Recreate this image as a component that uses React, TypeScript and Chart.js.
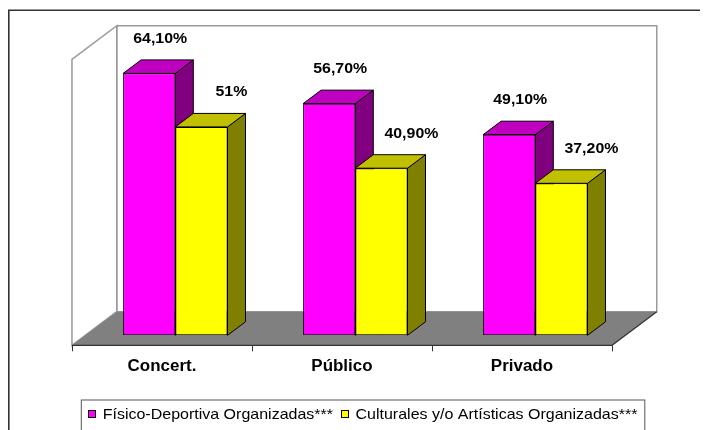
import React, { useEffect, useRef } from "react";
import { Chart, registerables } from "chart.js";

Chart.register(...registerables);

const categories = ["Concert.", "Público", "Privado"];
const fisicoValues = [64.1, 56.7, 49.1];
const culturalesValues = [51, 40.9, 37.2];
const fisicoLabels = ["64,10%", "56,70%", "49,10%"];
const culturalesLabels = ["51%", "40,90%", "37,20%"];
const seriesNames = ["Físico-Deportiva Organizadas***", "Culturales y/o Artísticas Organizadas***"];
const yMin = 0;
const yMax = 70;

const FONT = '"Liberation Sans", Arial, Helvetica, sans-serif';
const frontColors = ["#FF00FF", "#FFFF00"];
const topColors = ["#C000C0", "#C0C000"];
const sideColors = ["#800080", "#808000"];
const valueLabels = [fisicoLabels, culturalesLabels];

// depth geometry (pixels): direction (4/3, -1) per unit of depth
const DX = 4 / 3;
const BAR_DEPTH = 13.5;
const FRONT_GAP = 10;
const BACK_GAP = 23.6;
const LABEL_SHIFT = [11, 30];

function drawText(ctx: CanvasRenderingContext2D, s: string, x: number, y: number, font: string, sx: number, align: CanvasTextAlign) {
  ctx.save();
  ctx.translate(x, y);
  ctx.scale(sx, 1);
  ctx.font = font;
  ctx.textAlign = align;
  ctx.textBaseline = "alphabetic";
  ctx.fillStyle = "#000";
  ctx.fillText(s, 0, 0);
  ctx.restore();
}

function poly(ctx: CanvasRenderingContext2D, pts: number[][], fill: string | null, stroke: string | null, lw = 1) {
  ctx.beginPath();
  ctx.moveTo(pts[0][0], pts[0][1]);
  for (let i = 1; i < pts.length; i++) ctx.lineTo(pts[i][0], pts[i][1]);
  ctx.closePath();
  if (fill) {
    ctx.fillStyle = fill;
    ctx.fill();
  }
  if (stroke) {
    ctx.strokeStyle = stroke;
    ctx.lineWidth = lw;
    ctx.stroke();
  }
}

const threeD = {
  id: "threeD",
  beforeDatasetsDraw(chart: any) {
    const { ctx, chartArea: ca, scales } = chart;
    const ys = scales.y;
    const xs = scales.x;
    const base = ys.getPixelForValue(yMin);
    const top = ys.getPixelForValue(yMax);
    const fl = ca.left - FRONT_GAP * DX, fr = ca.right - FRONT_GAP * DX;
    const fb = base + FRONT_GAP, ft = top + FRONT_GAP;
    const bl = ca.left + BACK_GAP * DX, br = ca.right + BACK_GAP * DX;
    const bb = base - BACK_GAP, bt = top - BACK_GAP;
    ctx.save();
    // outer frame
    ctx.strokeStyle = "#333";
    ctx.lineWidth = 1.6;
    ctx.beginPath();
    ctx.moveTo(0.8, chart.height + 5);
    ctx.lineTo(0.8, 2.3);
    ctx.lineTo(chart.width + 5, 2.3);
    ctx.stroke();
    // back wall
    poly(ctx, [[bl, bt], [br, bt], [br, bb], [bl, bb]], "#FFFFFF", "#9A9A9A", 1.5);
    // left wall
    poly(ctx, [[fl, ft], [bl, bt], [bl, bb], [fl, fb]], "#FFFFFF", "#9A9A9A", 1.5);
    // floor
    poly(ctx, [[fl, fb], [fr, fb], [br, bb], [bl, bb]], "#808080", null);
    ctx.strokeStyle = "#333";
    ctx.lineWidth = 1.2;
    ctx.beginPath();
    ctx.moveTo(fl, fb);
    ctx.lineTo(fr, fb);
    ctx.lineTo(br, bb);
    ctx.stroke();
    // ticks
    ctx.lineWidth = 1;
    ctx.beginPath();
    for (let i = 0; i <= categories.length; i++) {
      const x = Math.round(xs.getPixelForValue(i - 0.5) - FRONT_GAP * DX) + 0.5;
      ctx.moveTo(x, fb);
      ctx.lineTo(x, fb + 6);
    }
    ctx.stroke();
    // 3D faces of bars
    for (let d = 0; d < chart.data.datasets.length; d++) {
      const meta = chart.getDatasetMeta(d);
      meta.data.forEach((el: any) => {
        const l = el.x - el.width / 2, r = el.x + el.width / 2;
        const t = el.y, b = el.base;
        const dx = BAR_DEPTH * DX, dy = -BAR_DEPTH;
        poly(ctx, [[r, t], [r + dx, t + dy], [r + dx, b + dy], [r, b]], sideColors[d], "#000", 1);
        poly(ctx, [[l, t], [l + dx, t + dy], [r + dx, t + dy], [r, t]], topColors[d], "#000", 1);
      });
    }
    ctx.restore();
  },
  afterDraw(chart: any) {
    const { ctx, scales } = chart;
    const xs = scales.x;
    const ys = scales.y;
    const base = ys.getPixelForValue(yMin);
    // value labels
    for (let d = 0; d < chart.data.datasets.length; d++) {
      const meta = chart.getDatasetMeta(d);
      meta.data.forEach((el: any, i: number) => {
        drawText(ctx, valueLabels[d][i], el.x + LABEL_SHIFT[d], el.y - BAR_DEPTH - 17, `bold 15px ${FONT}`, 1.06, "center");
      });
    }
    // category labels
    categories.forEach((c, i) => {
      const x = xs.getPixelForValue(i) - FRONT_GAP * DX;
      drawText(ctx, c, x, base + 35.4, `bold 16px ${FONT}`, 1.06, "center");
    });
    // legend
    const boxL = 72.8, boxT = 391.5, boxR = 636.3;
    ctx.save();
    ctx.strokeStyle = "#555";
    ctx.lineWidth = 1;
    ctx.strokeRect(boxL + 0.5, boxT + 0.5, boxR - boxL, 60);
    const sx = 16 / 15;
    const font = `15px ${FONT}`;
    ctx.font = font;
    const widths = seriesNames.map((s) => ctx.measureText(s).width * sx);
    const sw = 7, gapSwText = 8, gapItems = 7.5;
    const total = widths.reduce((a, w) => a + sw + gapSwText + w, 0) + gapItems;
    let x = (boxL + boxR) / 2 - total / 2;
    const baseline = 411;
    seriesNames.forEach((s, d) => {
      ctx.fillStyle = frontColors[d];
      ctx.fillRect(Math.round(x) + 0.5, 402.5, sw, sw);
      ctx.strokeStyle = "#000";
      ctx.strokeRect(Math.round(x) + 0.5, 402.5, sw, sw);
      x += sw + gapSwText;
      drawText(ctx, s, x, baseline, font, sx, "left");
      x += widths[d] + gapItems;
    });
    ctx.restore();
  },
};

export default function App() {
  const ref = useRef<HTMLCanvasElement>(null);
  useEffect(() => {
    if (!ref.current) return;
    const chart = new Chart(ref.current, {
      type: "bar",
      data: {
        labels: categories,
        datasets: [
          {
            label: seriesNames[0],
            data: fisicoValues,
            backgroundColor: frontColors[0],
            borderColor: "#000",
            borderWidth: 1,
            borderSkipped: false,
            categoryPercentage: 0.58,
            barPercentage: 1,
          },
          {
            label: seriesNames[1],
            data: culturalesValues,
            backgroundColor: frontColors[1],
            borderColor: "#000",
            borderWidth: 1,
            borderSkipped: false,
            categoryPercentage: 0.58,
            barPercentage: 1,
          },
        ],
      },
      options: {
        animation: false,
        responsive: false,
        devicePixelRatio: 1,
        events: [],
        layout: { padding: { left: 77.3, top: 41.3, right: 82.7, bottom: 94.7 } },
        plugins: { legend: { display: false }, tooltip: { enabled: false }, title: { display: false } },
        scales: {
          x: { display: false },
          y: { display: false, min: yMin, max: yMax },
        },
      },
      plugins: [threeD],
    } as any);
    return () => chart.destroy();
  }, []);
  return (
    <div style={{ width: 700, height: 422 }}>
      <canvas ref={ref} width={700} height={422} style={{ display: "block" }} />
    </div>
  );
}
